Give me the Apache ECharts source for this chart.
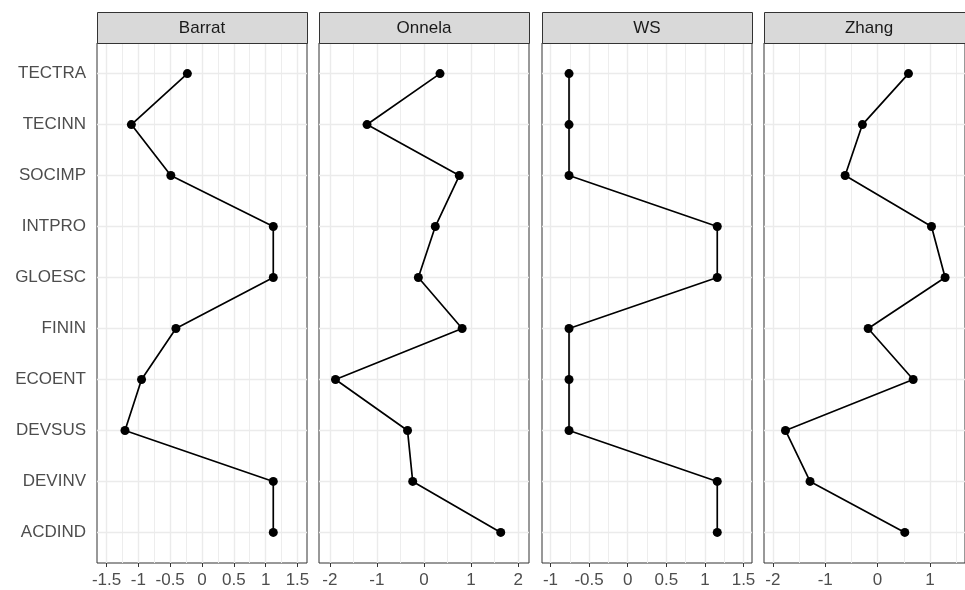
<!DOCTYPE html>
<html>
<head>
<meta charset="utf-8">
<script src="https://cdn.jsdelivr.net/npm/echarts@6/dist/echarts.min.js"></script>
<style>
html,body{margin:0;padding:0;background:#fff;}
#c{width:965px;height:590px;}
</style>
</head>
<body>
<div id="c"></div>
<script>
// ---- data ----
const categories = ['ACDIND','DEVINV','DEVSUS','ECOENT','FININ','GLOESC','INTPRO','SOCIMP','TECINN','TECTRA'];
const panelNames = ['Barrat','Onnela','WS','Zhang'];
const barratValues = [1.12, 1.12, -1.21, -0.95, -0.41, 1.12, 1.12, -0.49, -1.11, -0.23];
const onnelaValues = [1.63, -0.24, -0.35, -1.88, 0.81, -0.12, 0.24, 0.75, -1.21, 0.34];
const wsValues     = [1.16, 1.16, -0.76, -0.76, -0.76, 1.16, 1.16, -0.76, -0.76, -0.76];
const zhangValues  = [0.52, -1.29, -1.76, 0.68, -0.18, 1.29, 1.03, -0.62, -0.29, 0.59];
const barratTicks = [-1.5, -1, -0.5, 0, 0.5, 1, 1.5];
const onnelaTicks = [-2, -1, 0, 1, 2];
const wsTicks     = [-1, -0.5, 0, 0.5, 1, 1.5];
const zhangTicks  = [-2, -1, 0, 1];
const barratRange = [-1.65, 1.65];
const onnelaRange = [-2.23, 2.23];
const wsRange     = [-1.11, 1.61];
const zhangRange  = [-2.17, 1.67];

// ---- layout ----
const panelLefts = [97, 319, 542, 764];
const panelWidth = 210;
const panelTop = 43;
const panelHeight = 520;
const stripTop = 12;
const FONT = '"Liberation Sans", Arial, sans-serif';

const allValues = [barratValues, onnelaValues, wsValues, zhangValues];
const allTicks = [barratTicks, onnelaTicks, wsTicks, zhangTicks];
const allRanges = [barratRange, onnelaRange, wsRange, zhangRange];
const catTicks = categories.map((c, i) => i + 1);

function minorLines(ticks, range) {
  const half = (ticks[1] - ticks[0]) / 2;
  const out = [];
  let v = Math.ceil(range[0] / half) * half;
  for (; v < range[1]; v += half) {
    const r = Math.round(v * 1000) / 1000;
    if (!ticks.some(t => Math.abs(t - r) < 1e-6)) out.push(r);
  }
  return out;
}

const grids = [], xAxes = [], yAxes = [], series = [], graphics = [];
panelNames.forEach((name, p) => {
  grids.push({
    left: panelLefts[p], top: panelTop, width: panelWidth, height: panelHeight,
    show: true, backgroundColor: '#fff', borderColor: '#333333', borderWidth: 1, containLabel: false
  });
  xAxes.push({
    type: 'value', gridIndex: p, min: allRanges[p][0], max: allRanges[p][1],
    axisLine: { show: false },
    splitLine: { show: false },
    axisTick: { show: true, length: 4, customValues: allTicks[p], lineStyle: { color: '#333333', width: 1 } },
    axisLabel: { show: true, customValues: allTicks[p], margin: 9, color: '#4d4d4d', fontSize: 17, fontFamily: FONT,
      formatter: v => String(v) }
  });
  yAxes.push({
    type: 'value', gridIndex: p, min: 0.4, max: 10.6,
    axisLine: { show: false },
    splitLine: { show: false },
    axisTick: { show: p === 0, length: 4, customValues: catTicks, lineStyle: { color: '#333333', width: 1 } },
    axisLabel: { show: p === 0, customValues: catTicks, margin: 11, color: '#4d4d4d', fontSize: 17, fontFamily: FONT,
      formatter: v => categories[Math.round(v) - 1] || '' }
  });
  const mlData = [];
  minorLines(allTicks[p], allRanges[p]).forEach(v => mlData.push({ xAxis: v, lineStyle: { color: '#ededed', width: 1, type: 'solid' } }));
  allTicks[p].forEach(v => mlData.push({ xAxis: v, lineStyle: { color: '#ebebeb', width: 1.4, type: 'solid' } }));
  catTicks.forEach(v => mlData.push({ yAxis: v, lineStyle: { color: '#ebebeb', width: 1.4, type: 'solid' } }));
  series.push({
    type: 'line', xAxisIndex: p, yAxisIndex: p,
    data: allValues[p].map((v, i) => [v, i + 1]),
    symbol: 'circle', symbolSize: 9, showSymbol: true,
    lineStyle: { color: '#000', width: 1.7 },
    itemStyle: { color: '#000' },
    z: 3,
    markLine: {
      silent: true, symbol: ['none', 'none'], label: { show: false }, z: 1,
      animation: false,
      lineStyle: { type: 'solid', color: '#ebebeb' },
      emphasis: { disabled: true },
      data: mlData
    }
  });
  graphics.push({
    type: 'rect', silent: true, z: 10,
    shape: { x: panelLefts[p] + 0.5, y: stripTop + 0.5, width: panelWidth, height: panelTop - stripTop },
    style: { fill: '#d9d9d9', stroke: '#333333', lineWidth: 1 }
  });
  graphics.push({
    type: 'text', silent: true, z: 11,
    x: panelLefts[p] + panelWidth / 2, y: (stripTop + panelTop) / 2 + 1,
    style: { text: name, fill: '#1a1a1a', font: '17px ' + FONT, align: 'center', verticalAlign: 'middle' }
  });
});

const chart = echarts.init(document.getElementById('c'), null, { renderer: 'canvas' });
chart.setOption({
  animation: false,
  backgroundColor: '#fff',
  grid: grids,
  xAxis: xAxes,
  yAxis: yAxes,
  series: series,
  graphic: graphics
});
</script>
</body>
</html>
